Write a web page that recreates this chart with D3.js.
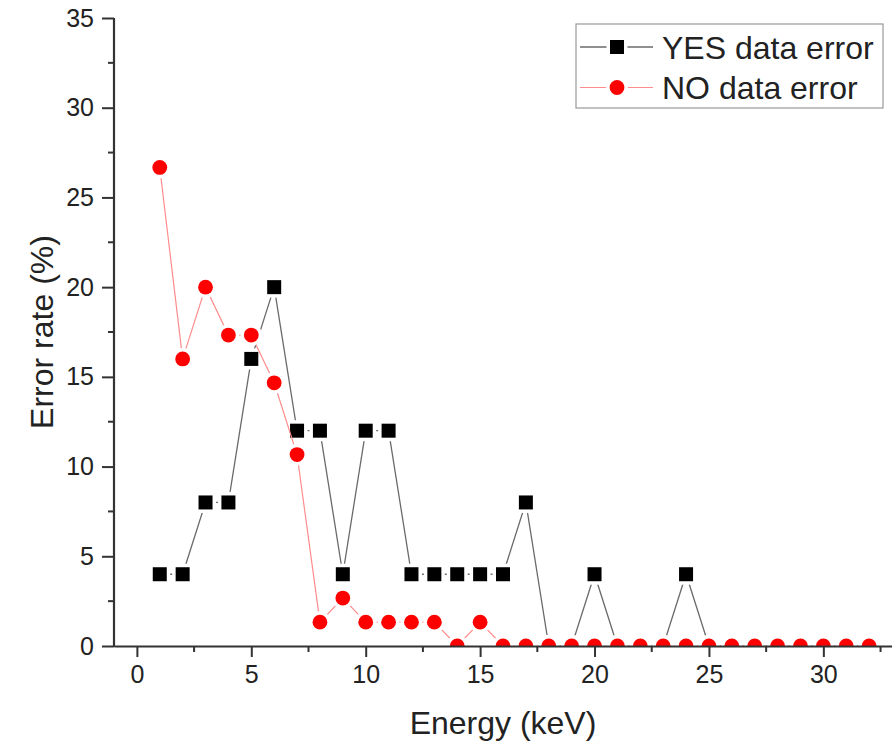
<!DOCTYPE html>
<html>
<head>
<meta charset="utf-8">
<script src="https://cdn.jsdelivr.net/npm/d3@7"></script>
<style>
  body { margin: 0; background: #fff; }
  svg { display: block; font-family: "Liberation Sans", Arial, sans-serif; }
</style>
</head>
<body>
<svg id="chart"></svg>
<script>
// energies (keV)
const energy = d3.range(1, 33);
// error rate (%) per energy
const yesError = [4, 4, 8, 8, 16, 20, 12, 12, 4, 12, 12, 4, 4, 4, 4, 4, 8, 0, 0, 4, 0, 0, 0, 4, 0, 0, 0, 0, 0, 0, 0, 0];
const noError = [26.67, 16, 20, 17.33, 17.33, 14.67, 10.67, 1.33, 2.67, 1.33, 1.33, 1.33, 1.33, 0, 1.33, 0, 0, 0, 0, 0, 0, 0, 0, 0, 0, 0, 0, 0, 0, 0, 0, 0];
const xTicks = [0, 5, 10, 15, 20, 25, 30];
const yTicks = [0, 5, 10, 15, 20, 25, 30, 35];

var W = 892, H = 747;
var margin = {top: 18, right: 0, bottom: 101, left: 114},
    width = W - margin.left - margin.right,
    height = H - margin.top - margin.bottom;

const svg = d3.select("#chart").attr("width", W).attr("height", H);
const g = svg.append("g").attr("transform", "translate(" + margin.left + "," + margin.top + ")");

var x = d3.scaleLinear().domain([-1, 33]).range([0, width]);
var y = d3.scaleLinear().domain([0, 35]).range([height, 0]);

svg.append("defs").append("clipPath").attr("id", "plotclip")
  .append("rect").attr("x", 0).attr("y", -20).attr("width", width).attr("height", height + 20);

const plot = g.append("g").attr("clip-path", "url(#plotclip)");

const series = [
  {name: "YES data error", values: yesError, line: "#6a6a6a", lw: 1.3, fill: "#000", shape: "square"},
  {name: "NO data error", values: noError, line: "#ff8c8c", lw: 1.2, fill: "#ff0000", shape: "circle"}
];

function drawMarker(sel, s, halo) {
  var pad = halo ? 3.5 : 0;
  if (s.shape === "square") {
    var sz = 14 + pad * 2;
    sel.append("rect").attr("x", -sz / 2).attr("y", -sz / 2).attr("width", sz).attr("height", sz)
      .attr("fill", halo ? "#fff" : s.fill);
  } else {
    sel.append("circle").attr("r", 7.4 + pad).attr("fill", halo ? "#fff" : s.fill);
  }
}

series.forEach(function (s) {
  const pts = energy.map((e, i) => [e, s.values[i]]);
  plot.append("path")
    .datum(pts)
    .attr("fill", "none")
    .attr("stroke", s.line)
    .attr("stroke-width", s.lw)
    .attr("d", d3.line().x(d => x(d[0])).y(d => y(d[1])));

  const mk = plot.append("g").selectAll("g")
    .data(pts).enter().append("g")
    .attr("transform", d => "translate(" + x(d[0]) + "," + y(d[1]) + ")");
  mk.each(function () { drawMarker(d3.select(this), s, true); });
  mk.each(function () { drawMarker(d3.select(this), s, false); });
});

// axes
const axisColor = "#333";
const xAxis = g.append("g").attr("transform", "translate(0," + height + ")")
  .call(d3.axisBottom(x).tickValues(xTicks).tickSize(11).tickPadding(8).tickSizeOuter(0));
xAxis.append("g").selectAll("line").data(d3.range(2.5, 33, 5)).enter().append("line")
  .attr("x1", d => x(d)).attr("x2", d => x(d)).attr("y1", 0).attr("y2", 6)
  .attr("stroke", axisColor).attr("stroke-width", 2);

const yAxis = g.append("g")
  .call(d3.axisLeft(y).tickValues(yTicks).tickSize(12).tickPadding(8).tickSizeOuter(0));
yAxis.append("g").selectAll("line").data(d3.range(2.5, 35, 5)).enter().append("line")
  .attr("x1", 0).attr("x2", -6).attr("y1", d => y(d)).attr("y2", d => y(d))
  .attr("stroke", axisColor).attr("stroke-width", 2);

[xAxis, yAxis].forEach(function (a) {
  a.select(".domain").attr("stroke", axisColor).attr("stroke-width", 2.2);
  a.selectAll(".tick line").attr("stroke", axisColor).attr("stroke-width", 2);
  a.selectAll(".tick text").attr("fill", "#222").style("font-size", "25px")
    .style("font-family", "'Liberation Sans', Arial, sans-serif");
});
yAxis.select(".domain").attr("d", "M0," + (height + 1) + "V0");

// axis titles
g.append("text")
  .attr("x", width / 2).attr("y", height + 88)
  .attr("text-anchor", "middle").attr("fill", "#222").style("font-size", "32px")
  .text("Energy (keV)");

g.append("text")
  .attr("transform", "translate(" + (-61) + "," + (height / 2) + ") rotate(-90)")
  .attr("text-anchor", "middle").attr("fill", "#222").style("font-size", "32px")
  .text("Error rate (%)");

// legend
const lg = svg.append("g").attr("transform", "translate(576,24)");
lg.append("rect").attr("width", 307).attr("height", 84)
  .attr("fill", "#fff").attr("stroke", "#999").attr("stroke-width", 1.2);
series.forEach(function (s, i) {
  const row = lg.append("g").attr("transform", "translate(0," + (23 + i * 40.5) + ")");
  row.append("line").attr("x1", 4).attr("x2", 77).attr("y1", 0).attr("y2", 0)
    .attr("stroke", s.line).attr("stroke-width", s.lw);
  const m = row.append("g").attr("transform", "translate(41,0)");
  drawMarker(m, s, true);
  drawMarker(m, s, false);
  row.append("text").attr("x", 86).attr("y", 11.5).attr("fill", "#222")
    .style("font-size", "32px").text(s.name);
});
</script>
</body>
</html>
